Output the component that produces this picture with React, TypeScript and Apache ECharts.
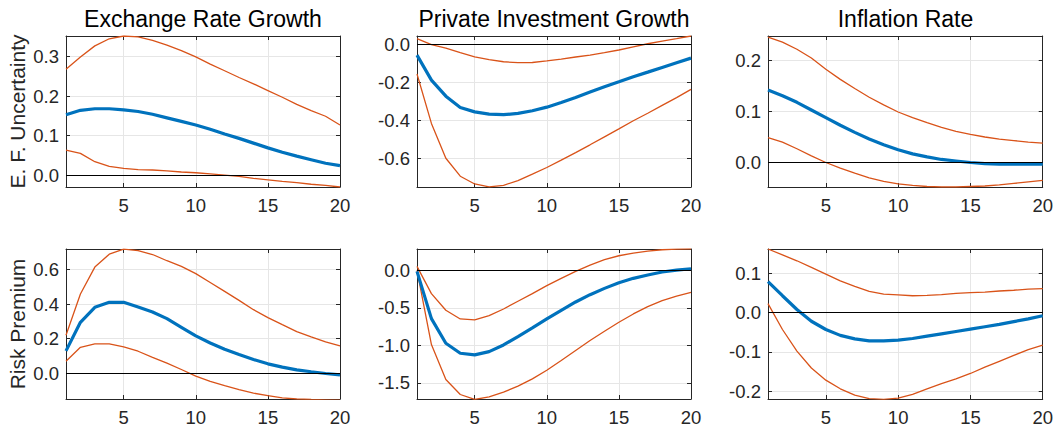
import React, { useEffect, useRef } from "react";
import * as echarts from "echarts";

const periods = [1, 2, 3, 4, 5, 6, 7, 8, 9, 10, 11, 12, 13, 14, 15, 16, 17, 18, 19, 20];
const xTicks = [5, 10, 15, 20];

const titles = ["Exchange Rate Growth", "Private Investment Growth", "Inflation Rate"];
const rowLabels = ["E. F. Uncertainty", "Risk Premium"];

// Row 1: E. F. Uncertainty shock
const exUncUpper = [0.268, 0.299, 0.327, 0.345, 0.352, 0.35, 0.341, 0.329, 0.315, 0.299, 0.281, 0.264, 0.247, 0.231, 0.214, 0.197, 0.179, 0.163, 0.149, 0.127];
const exUncMid = [0.153, 0.164, 0.168, 0.168, 0.165, 0.161, 0.154, 0.145, 0.136, 0.127, 0.116, 0.104, 0.093, 0.081, 0.069, 0.058, 0.048, 0.039, 0.03, 0.024];
const exUncLower = [0.063, 0.055, 0.034, 0.022, 0.017, 0.014, 0.013, 0.011, 0.008, 0.006, 0.003, 0.0, -0.003, -0.008, -0.012, -0.016, -0.019, -0.023, -0.026, -0.03];

const invUncUpper = [0.032, 0.0, -0.018, -0.042, -0.064, -0.079, -0.09, -0.095, -0.094, -0.086, -0.076, -0.065, -0.055, -0.042, -0.028, -0.011, 0.005, 0.019, 0.032, 0.046];
const invUncMid = [-0.055, -0.187, -0.272, -0.332, -0.355, -0.367, -0.37, -0.363, -0.349, -0.33, -0.305, -0.279, -0.25, -0.222, -0.196, -0.169, -0.145, -0.12, -0.095, -0.071];
const invUncLower = [-0.155, -0.416, -0.6, -0.695, -0.736, -0.751, -0.743, -0.718, -0.684, -0.649, -0.61, -0.57, -0.529, -0.487, -0.445, -0.402, -0.362, -0.321, -0.28, -0.236];

const infUncUpper = [0.246, 0.236, 0.222, 0.205, 0.183, 0.163, 0.145, 0.128, 0.113, 0.099, 0.088, 0.078, 0.069, 0.061, 0.055, 0.05, 0.046, 0.043, 0.04, 0.038];
const infUncMid = [0.142, 0.131, 0.118, 0.103, 0.088, 0.073, 0.059, 0.046, 0.035, 0.025, 0.017, 0.011, 0.006, 0.003, 0.0, -0.002, -0.003, -0.003, -0.003, -0.003];
const infUncLower = [0.049, 0.04, 0.027, 0.013, 0.0, -0.011, -0.021, -0.03, -0.037, -0.042, -0.045, -0.047, -0.048, -0.048, -0.047, -0.046, -0.044, -0.041, -0.038, -0.035];

// Row 2: Risk Premium shock
const exRpUpper = [0.22, 0.459, 0.615, 0.69, 0.719, 0.711, 0.688, 0.652, 0.619, 0.577, 0.526, 0.474, 0.422, 0.368, 0.322, 0.281, 0.241, 0.21, 0.181, 0.158];
const exRpMid = [0.129, 0.295, 0.382, 0.411, 0.411, 0.384, 0.355, 0.316, 0.266, 0.216, 0.175, 0.139, 0.108, 0.079, 0.054, 0.035, 0.019, 0.008, -0.002, -0.01];
const exRpLower = [0.069, 0.15, 0.17, 0.17, 0.152, 0.127, 0.092, 0.058, 0.021, -0.017, -0.048, -0.073, -0.096, -0.116, -0.131, -0.143, -0.15, -0.153, -0.155, -0.157];

const invRpUpper = [0.053, -0.31, -0.532, -0.648, -0.661, -0.603, -0.515, -0.412, -0.31, -0.204, -0.106, -0.013, 0.071, 0.142, 0.195, 0.231, 0.257, 0.275, 0.284, 0.288];
const invRpMid = [-0.013, -0.643, -0.972, -1.105, -1.127, -1.083, -0.994, -0.883, -0.768, -0.648, -0.532, -0.421, -0.324, -0.24, -0.164, -0.106, -0.062, -0.022, 0.004, 0.022];
const invRpLower = [0.0, -0.989, -1.455, -1.655, -1.721, -1.686, -1.624, -1.544, -1.446, -1.331, -1.202, -1.069, -0.936, -0.812, -0.692, -0.581, -0.484, -0.404, -0.342, -0.293];

const infRpUpper = [0.162, 0.147, 0.132, 0.115, 0.098, 0.081, 0.067, 0.054, 0.047, 0.045, 0.043, 0.044, 0.046, 0.049, 0.051, 0.052, 0.055, 0.057, 0.06, 0.061];
const infRpMid = [0.079, 0.043, 0.008, -0.022, -0.043, -0.058, -0.067, -0.072, -0.072, -0.07, -0.066, -0.06, -0.054, -0.048, -0.042, -0.036, -0.03, -0.023, -0.016, -0.008];
const infRpLower = [0.023, -0.043, -0.098, -0.141, -0.172, -0.194, -0.21, -0.219, -0.221, -0.218, -0.208, -0.194, -0.181, -0.169, -0.155, -0.139, -0.124, -0.109, -0.094, -0.083];

const yTicks = [
  [0, 0.1, 0.2, 0.3],
  [-0.6, -0.4, -0.2, 0],
  [0, 0.1, 0.2],
  [0, 0.2, 0.4, 0.6],
  [-1.5, -1.0, -0.5, 0],
  [-0.2, -0.1, 0, 0.1],
];
const yMins = [-0.03, -0.752, -0.048, -0.15, -1.715, -0.22];
const yMaxs = [0.352, 0.046, 0.248, 0.72, 0.285, 0.162];

const panelData = [
  [exUncUpper, exUncMid, exUncLower],
  [invUncUpper, invUncMid, invUncLower],
  [infUncUpper, infUncMid, infUncLower],
  [exRpUpper, exRpMid, exRpLower],
  [invRpUpper, invRpMid, invRpLower],
  [infRpUpper, infRpMid, infRpLower],
];

const FONT = "'Liberation Sans', Arial, Helvetica, sans-serif";
const BLUE = "#0072BD";
const RED = "#D95319";
const AX = "#262626";

export default function App() {
  const ref = useRef<HTMLDivElement>(null);
  useEffect(() => {
    if (!ref.current) return;
    const chart = echarts.init(ref.current, undefined, { renderer: "svg" });
    const lefts = [66, 417, 768];
    const widths = [274, 274, 275];
    const tops = [36, 249];
    const heights = [151, 150];
    const grids: any[] = [];
    const xAxes: any[] = [];
    const yAxes: any[] = [];
    const series: any[] = [];
    const graphics: any[] = [];
    for (let k = 0; k < 6; k++) {
      const r = Math.floor(k / 3);
      const c = k % 3;
      grids.push({ left: lefts[c], top: tops[r], width: widths[c], height: heights[r], containLabel: false });
      const baseX = {
        type: "value",
        gridIndex: k,
        min: 1,
        max: 20,
        axisLine: { show: true, onZero: false, lineStyle: { color: AX, width: 1 } },
        axisTick: { show: true, inside: true, length: 4, lineStyle: { color: AX }, customValues: xTicks },
      };
      xAxes.push({
        ...baseX,
        position: "bottom",
        axisLabel: { show: true, customValues: xTicks, margin: 9, fontSize: 18.5, color: AX, fontFamily: FONT },
        splitLine: { show: true, lineStyle: { color: "#e6e6e6", width: 1 } },
      });
      xAxes.push({ ...baseX, position: "top", axisLabel: { show: false }, splitLine: { show: false } });
      const baseY = {
        type: "value",
        gridIndex: k,
        min: yMins[k],
        max: yMaxs[k],
        axisLine: { show: true, onZero: false, lineStyle: { color: AX, width: 1 } },
        axisTick: { show: true, inside: true, length: 4, lineStyle: { color: AX }, customValues: yTicks[k] },
      };
      yAxes.push({
        ...baseY,
        position: "left",
        axisLabel: {
          show: true,
          customValues: yTicks[k],
          margin: 7,
          fontSize: 18.5,
          color: AX,
          fontFamily: FONT,
          formatter: (v: number) => v.toFixed(1),
        },
        splitLine: { show: true, lineStyle: { color: "#e6e6e6", width: 1 } },
      });
      yAxes.push({ ...baseY, position: "right", axisLabel: { show: false }, splitLine: { show: false } });
      const [up, mid, lo] = panelData[k];
      const mk = (arr: number[]) => periods.map((p, i) => [p, arr[i]]);
      series.push({
        type: "line",
        xAxisIndex: 2 * k,
        yAxisIndex: 2 * k,
        data: mk(up),
        symbol: "none",
        lineStyle: { color: RED, width: 1.3 },
        z: 3,
        markLine: {
          silent: true,
          symbol: "none",
          label: { show: false },
          lineStyle: { color: "#000", width: 1, type: "solid" },
          data: [{ yAxis: 0 }],
        },
      });
      series.push({
        type: "line",
        xAxisIndex: 2 * k,
        yAxisIndex: 2 * k,
        data: mk(lo),
        symbol: "none",
        lineStyle: { color: RED, width: 1.3 },
        z: 3,
      });
      series.push({
        type: "line",
        xAxisIndex: 2 * k,
        yAxisIndex: 2 * k,
        data: mk(mid),
        symbol: "none",
        lineStyle: { color: BLUE, width: 3.2 },
        z: 4,
      });
    }
    for (let c = 0; c < 3; c++) {
      graphics.push({
        type: "text",
        x: lefts[c] + widths[c] / 2,
        y: 19,
        style: { text: titles[c], align: "center", verticalAlign: "middle", fontSize: 23, fontFamily: FONT, fill: "#000" },
      });
    }
    for (let r = 0; r < 2; r++) {
      graphics.push({
        type: "text",
        x: 17,
        y: tops[r] + heights[r] / 2,
        rotation: Math.PI / 2,
        style: { text: rowLabels[r], align: "center", verticalAlign: "middle", fontSize: 21, fontFamily: FONT, fill: AX },
      });
    }
    chart.setOption({
      animation: false,
      backgroundColor: "#fff",
      textStyle: { fontFamily: FONT },
      grid: grids,
      xAxis: xAxes,
      yAxis: yAxes,
      series,
      graphic: graphics,
    });
    return () => chart.dispose();
  }, []);
  return <div ref={ref} style={{ position: "absolute", left: 0, top: 0, width: 1056, height: 432 }} />;
}
